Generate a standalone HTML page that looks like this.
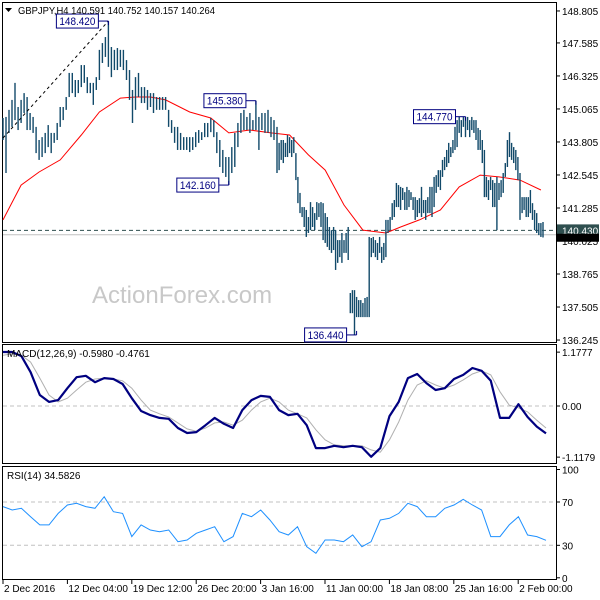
<!DOCTYPE html>
<html><head><meta charset="utf-8"><style>
body{margin:0;background:#fff;}
svg{display:block;font-family:"Liberation Sans",sans-serif;}
</style></head><body>
<svg id="chart" width="600" height="600" viewBox="0 0 600 600" xmlns="http://www.w3.org/2000/svg">
<rect width="600" height="600" fill="#fff"/>
<g id="main"></g>
</svg>
<script>
const priceTicks=[148.805,147.585,146.325,145.065,143.805,142.545,141.285,140.025,138.765,137.505,136.245];
const highs=[144.72,144.76,145.03,145.41,146.06,145.14,145.41,145.67,145.52,144.91,144.76,144.38,143.88,143.99,144.15,144.45,144.15,144.15,144.53,145.14,145.14,145.52,146.44,146.44,146.17,146.17,146.74,146.74,146.28,146.06,146.06,146.28,147.32,147.58,147.81,148.42,147.43,147.32,147.39,147.32,147.32,146.93,146.55,145.79,146.28,146.44,145.90,145.90,145.79,145.67,145.67,145.52,145.52,145.52,145.52,145.03,144.64,144.38,144.38,144.15,143.99,143.99,143.99,143.99,144.18,144.26,144.18,144.53,144.53,144.72,144.64,144.18,143.88,143.50,143.23,143.23,143.61,144.15,144.53,144.91,145.03,144.76,144.91,144.64,145.38,144.76,144.91,144.91,145.03,144.76,144.64,144.38,
143.77,143.88,143.88,143.77,144.07,143.99,143.88,143.99,143.38,142.47,141.86,141.32,141.32,141.21,140.94,141.51,141.32,141.09,141.51,141.47,141.51,141.47,141.09,140.94,140.56,140.44,140.56,140.44,140.06,140.06,140.33,140.06,140.33,140.56,138.04,138.15,138.15,137.89,137.77,137.77,137.66,137.85,137.89,140.18,140.14,140.18,140.06,139.95,140.18,139.80,139.95,140.83,140.83,140.94,141.47,141.59,142.24,142.16,142.09,142.05,141.89,142.09,141.97,141.89,141.70,141.70,141.59,141.66,142.09,141.59,141.59,141.70,142.09,142.09,142.47,142.54,142.73,142.73,143.12,143.23,143.50,143.77,143.61,143.88,144.38,144.64,144.77,144.64,144.77,144.77,144.76,144.64,144.76,144.64,144.64,144.34,144.26,143.88,143.50,142.47,142.35,142.47,142.35,142.24,142.47,142.24,142.35,142.62,143.00,143.88,144.18,143.77,143.61,143.50,143.23,142.62,141.70,141.70,141.70,141.70,141.97,141.47,141.21,141.09,140.71,140.71,140.75];
const lows=[143.88,142.62,144.15,144.38,144.64,144.26,144.53,144.91,144.26,144.26,144.15,143.38,143.12,143.23,143.38,143.61,143.38,143.77,143.88,144.38,144.64,145.03,145.52,145.67,145.52,145.67,145.90,146.06,145.67,145.67,145.22,145.79,146.17,146.82,147.05,146.67,146.28,146.55,146.55,146.67,146.55,146.17,145.41,144.53,145.03,145.52,145.29,145.29,145.03,145.14,144.91,145.03,145.03,145.03,145.03,144.38,144.15,143.77,143.50,143.50,143.50,143.50,143.42,143.50,143.61,143.77,143.88,143.99,143.99,144.18,143.99,143.38,142.85,142.62,142.47,142.16,142.62,142.85,143.61,144.15,144.26,144.26,144.15,144.26,144.26,143.50,144.26,144.15,144.15,143.99,143.88,142.62,
142.73,143.12,143.00,143.23,143.23,143.38,143.23,143.38,142.35,141.47,141.09,140.94,140.56,140.18,140.33,140.44,140.56,140.44,140.83,140.94,140.56,140.06,139.95,139.80,139.68,139.57,139.68,138.92,139.19,139.41,139.19,139.57,139.57,139.30,137.27,137.27,136.44,137.12,137.12,137.12,137.12,137.12,137.12,137.12,139.41,139.57,139.41,139.30,139.57,139.19,139.30,139.41,140.33,140.44,140.83,140.94,141.32,141.32,141.21,141.59,141.21,141.21,141.32,141.59,141.21,140.83,140.94,141.09,140.94,141.09,140.83,141.09,141.09,140.94,141.32,141.86,142.09,141.97,142.47,142.73,142.85,143.00,143.23,143.38,143.50,143.61,144.15,143.99,144.38,143.99,144.26,143.99,144.26,144.15,143.88,143.50,143.50,143.00,141.70,141.70,141.59,141.97,141.32,141.32,140.44,141.59,141.70,141.86,142.47,142.85,143.23,143.12,143.00,142.73,142.35,140.83,141.09,141.21,140.94,140.94,141.09,140.83,140.44,140.33,140.25,140.18,140.16];
const maBars=[0,6,12,19,26,32,39,44,49,54,62,69,75,82,89,97,106,114,123,132,143,150,159,169,178,188,197,207,217];
const maVals=[140.83,142.16,142.66,143.12,144.07,144.95,145.48,145.52,145.52,145.41,144.95,144.72,144.15,144.26,144.15,144.07,143.31,142.73,141.40,140.44,140.33,140.56,140.83,141.21,142.09,142.54,142.47,142.35,141.97];
const macdTicks=[1.1777,0,-1.1179];
const macdMain=[1.18,1.18,1.09,0.74,0.24,0.09,0.13,0.39,0.63,0.66,0.52,0.61,0.59,0.48,0.17,-0.11,-0.20,-0.26,-0.28,-0.48,-0.59,-0.57,-0.42,-0.26,-0.39,-0.48,-0.09,0.13,0.22,0.20,-0.09,-0.20,-0.17,-0.42,-0.92,-0.92,-0.87,-0.90,-0.87,-0.90,-1.11,-0.92,-0.22,0.09,0.61,0.70,0.50,0.35,0.39,0.59,0.68,0.83,0.77,0.55,-0.26,-0.26,0.04,-0.24,-0.45,-0.60];
const macdSignal=[1.11,1.14,1.11,0.96,0.61,0.24,0.09,0.17,0.35,0.52,0.59,0.61,0.59,0.55,0.39,0.13,-0.09,-0.17,-0.24,-0.37,-0.50,-0.55,-0.48,-0.37,-0.35,-0.42,-0.31,-0.09,0.09,0.17,0.09,-0.09,-0.17,-0.26,-0.52,-0.74,-0.85,-0.87,-0.87,-0.87,-0.96,-1.01,-0.74,-0.35,0.13,0.46,0.55,0.46,0.39,0.46,0.57,0.70,0.77,0.68,0.31,0.02,-0.04,-0.13,-0.31,-0.48];
const rsiTicks=[100,70,30,0];
const rsiVals=[65.7,62.6,64.2,56.4,48.8,48.8,59.5,67.2,68.8,65.7,64.2,74.9,61.0,59.5,38.0,48.8,44.1,42.6,44.1,33.3,34.9,41.1,44.1,47.2,33.3,38.0,59.5,56.4,62.6,53.4,42.6,39.5,47.2,28.7,22.6,34.9,34.9,33.3,39.5,28.7,33.3,53.4,54.9,59.5,68.8,65.7,56.4,56.4,64.2,67.2,72.5,67.2,62.6,38.0,38.0,48.8,56.4,39.5,38.0,34.58];
const dateLabels=["2 Dec 2016","12 Dec 04:00","19 Dec 12:00","26 Dec 20:00","3 Jan 16:00","11 Jan 00:00","18 Jan 08:00","25 Jan 16:00","2 Feb 00:00"];

const NS="http://www.w3.org/2000/svg";
const svg=document.getElementById('chart');
function mk(tag,attrs,parent,text){const e=document.createElementNS(NS,tag);for(const k in attrs)e.setAttribute(k,attrs[k]);if(text!==undefined)e.textContent=text;(parent||svg).appendChild(e);return e;}
const yP=p=>241-(p-140.025)*26.2;
const xBar=i=>i<=91?3+i*(274/91):277+(i-91)*(266/127);
const yM=v=>406-v*45.74;
const yR=v=>577.8-v*1.083;
const xInd=k=>3+k*(543/(macdMain.length-1));
const xDate=k=>3+k*64.4;
const FS=10;

const p1=mk('rect',{x:2.5,y:2.5,width:554,height:340,fill:'none',stroke:'#000'});


const p2=mk('rect',{x:2.5,y:344.5,width:554,height:119,fill:'none',stroke:'#000'});


const p3=mk('rect',{x:2.5,y:466.5,width:554,height:113,fill:'none',stroke:'#000'});



const wm=mk('text',{x:92,y:303,'font-size':24,fill:'#c8c8c8'},svg,'ActionForex.com');



priceTicks.forEach(p=>{const y=yP(p);
 mk('line',{x1:556,x2:560,y1:y,y2:y,stroke:'#000'});
 const t=mk('text',{x:562,y:y+4,'font-size':FS,fill:'#000'},svg,p.toFixed(3));
 
 
});

const hl=mk('line',{x1:3,x2:556,y1:yP(140.43),y2:yP(140.43),stroke:'#2f4f4f','stroke-dasharray':'4,3'});


const bl=mk('line',{x1:3,x2:556,y1:yP(140.264),y2:yP(140.264),stroke:'#c0c0c0'});



let d='';maBars.forEach((b,i)=>{d+=(i?'L':'M')+xBar(b).toFixed(1)+' '+yP(maVals[i]).toFixed(1);});
const ma=mk('path',{d:d,fill:'none',stroke:'#ff0000','stroke-width':1});



highs.forEach((h,i)=>{const x=xBar(i).toFixed(1);
 const b=mk('line',{x1:x,x2:x,y1:yP(h),y2:yP(lows[i]),stroke:'#124a6a','stroke-width':1.4});
 
 
});

const tl=mk('line',{x1:3,y1:138,x2:xBar(35),y2:yP(148.42),stroke:'#000','stroke-dasharray':'3,3'});



function ann(label,bi,price,side){const x=xBar(bi),y=yP(price);
 const bx=x-52,by=y-7;
 mk('line',{x1:bx+42,x2:x,y1:y,y2:y,stroke:'#000080'});
 mk('line',{x1:x,x2:x,y1:y,y2:side==='below'?y-4:y+4,stroke:'#000080'});
 const r=mk('rect',{x:bx,y:by,width:42,height:14,fill:'#fff',stroke:'#000080'});
 
 
 const t=mk('text',{x:bx+3,y:by+11,'font-size':11,fill:'#000080',textLength:36,lengthAdjust:'spacingAndGlyphs'},svg,label);
 
 }
ann('148.420',35,148.42,'above');
ann('145.380',84,145.38,'above');
ann('142.160',75,142.16,'below');
ann('144.770',181,144.77,'above');
ann('136.440',129,136.44,'below');

const vb1=mk('rect',{x:557,y:yP(140.43)-6,width:42,height:12,fill:'#2f4f4f'});


mk('text',{x:562,y:yP(140.43)+4,'font-size':FS,fill:'#fff'},svg,'140.430');
const vb2=mk('rect',{x:557,y:yP(140.264)-1,width:42,height:8,fill:'#000'});



mk('path',{d:'M5 8 L12 8 L8.5 12 Z',fill:'#000'});
const title=mk('text',{x:18,y:14,'font-size':FS,fill:'#000',textLength:197,lengthAdjust:'spacingAndGlyphs'},svg,'GBPJPY,H4  140.591 140.752 140.157 140.264');



macdTicks.forEach(v=>{const y=yM(v);
 mk('line',{x1:556,x2:560,y1:y,y2:y,stroke:'#000'});
 const t=mk('text',{x:562,y:y+4,'font-size':FS,fill:'#000'},svg,v===0?'0.00':v.toFixed(4));
 
 });
mk('line',{x1:3,x2:556,y1:yM(0),y2:yM(0),stroke:'#c0c0c0','stroke-dasharray':'4,3'});
let ds='';macdSignal.forEach((v,k)=>{ds+=(k?'L':'M')+xInd(k).toFixed(1)+' '+yM(v).toFixed(1);});
const sg=mk('path',{d:ds,fill:'none',stroke:'#b0b0b0','stroke-width':1});


let dm='';macdMain.forEach((v,k)=>{dm+=(k?'L':'M')+xInd(k).toFixed(1)+' '+yM(v).toFixed(1);});
const mm=mk('path',{d:dm,fill:'none',stroke:'#000080','stroke-width':2.2,'stroke-linejoin':'round'});


const ml=mk('text',{x:7,y:357,'font-size':FS,fill:'#000'},svg,'MACD(12,26,9) -0.5980 -0.4761');



rsiTicks.forEach(v=>{const y=yR(v);
 if(v===70||v===30)mk('line',{x1:3,x2:556,y1:y,y2:y,stroke:'#c0c0c0','stroke-dasharray':'4,3'});
 mk('line',{x1:556,x2:560,y1:y,y2:y,stroke:'#000'});
 const t=mk('text',{x:562,y:y+4,'font-size':FS,fill:'#000'},svg,String(v));
 
 });
let dr='';rsiVals.forEach((v,k)=>{dr+=(k?'L':'M')+xInd(k).toFixed(1)+' '+yR(v).toFixed(1);});
const rl=mk('path',{d:dr,fill:'none',stroke:'#1e90ff','stroke-width':1});


const rlab=mk('text',{x:7,y:479,'font-size':FS,fill:'#000'},svg,'RSI(14) 34.5826');



dateLabels.forEach((s,k)=>{const x=xDate(k);
 mk('line',{x1:x,x2:x,y1:580,y2:584,stroke:'#000'});
 const t=mk('text',{x:x+1,y:592,'font-size':FS,fill:'#000'},svg,s);
 
 });
</script>
</body></html>
